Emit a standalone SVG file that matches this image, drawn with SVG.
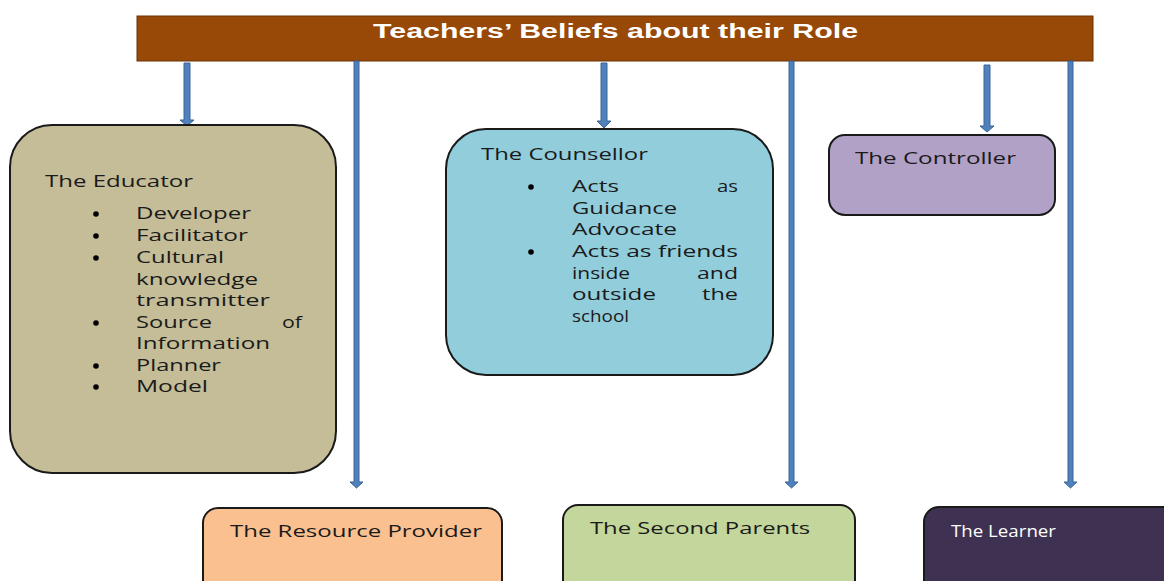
<svg xmlns="http://www.w3.org/2000/svg" width="1164" height="581" viewBox="0 0 1164 581">
<style>
.box{stroke:#1a1a1a;stroke-width:2}
.t{font-family:"Open Sans","Noto Sans",sans-serif;font-size:17px;fill:#1a1a1a}
.w{fill:#ffffff}
.hd{font-family:"Liberation Sans",Arial,sans-serif;font-size:19.5px;font-weight:bold;fill:#ffffff}
.arr{fill:#4F81BD;stroke:#3A6496;stroke-width:1}
.dot{fill:#000}
</style>
<rect width="1164" height="581" fill="#ffffff"/>
<g id="header">
<rect x="137" y="16" width="956" height="45" fill="#984807" stroke="#6b3305" stroke-width="1"/>
<text class="hd" x="373" y="38" textLength="485" lengthAdjust="spacingAndGlyphs">Teachers’ Beliefs about their Role</text>
</g>
<g id="connectors">
<polygon class="arr" points="184,63 190,63 190,120 194,120 187,126 180,120 184,120"/>
<polygon class="arr" points="354,61 359,61 359,482 363,482 356.5,488 350,482 354,482"/>
<polygon class="arr" points="601,63 607,63 607,121 611,121 604,128 597,121 601,121"/>
<polygon class="arr" points="789,61 794,61 794,482 798,482 791.5,488 785,482 789,482"/>
<polygon class="arr" points="984,65 990,65 990,126 994,126 987,132 980,126 984,126"/>
<polygon class="arr" points="1068,61 1073,61 1073,482 1077,482 1070.5,488 1064,482 1068,482"/>
</g>
<g id="educator">
<rect class="box" x="10" y="125" width="326" height="348" rx="42" fill="#C4BD97"/>
<text class="t" x="45" y="187" textLength="148" lengthAdjust="spacingAndGlyphs">The Educator</text>
<circle class="dot" cx="96" cy="214" r="2.8"/>
<text class="t" x="136" y="219" textLength="115" lengthAdjust="spacingAndGlyphs">Developer</text>
<circle class="dot" cx="96" cy="236" r="2.8"/>
<text class="t" x="136" y="241" textLength="112" lengthAdjust="spacingAndGlyphs">Facilitator</text>
<circle class="dot" cx="96" cy="258" r="2.8"/>
<text class="t" x="136" y="263" textLength="88" lengthAdjust="spacingAndGlyphs">Cultural</text>
<text class="t" x="136" y="285" textLength="122" lengthAdjust="spacingAndGlyphs">knowledge</text>
<text class="t" x="136" y="306" textLength="134" lengthAdjust="spacingAndGlyphs">transmitter</text>
<circle class="dot" cx="96" cy="323" r="2.8"/>
<text class="t" x="136" y="328" textLength="76" lengthAdjust="spacingAndGlyphs">Source</text>
<text class="t" x="282" y="328" textLength="20" lengthAdjust="spacingAndGlyphs">of</text>
<text class="t" x="136" y="349" textLength="134" lengthAdjust="spacingAndGlyphs">Information</text>
<circle class="dot" cx="96" cy="366" r="2.8"/>
<text class="t" x="136" y="371" textLength="85" lengthAdjust="spacingAndGlyphs">Planner</text>
<circle class="dot" cx="96" cy="387" r="2.8"/>
<text class="t" x="136" y="392" textLength="72" lengthAdjust="spacingAndGlyphs">Model</text>
</g>
<g id="counsellor">
<rect class="box" x="446" y="129" width="327" height="246" rx="40" fill="#92CDDC"/>
<text class="t" x="481" y="160" textLength="167" lengthAdjust="spacingAndGlyphs">The Counsellor</text>
<circle class="dot" cx="531" cy="187" r="2.8"/>
<text class="t" x="572" y="192" textLength="47" lengthAdjust="spacingAndGlyphs">Acts</text>
<text class="t" x="717" y="192" textLength="21" lengthAdjust="spacingAndGlyphs">as</text>
<text class="t" x="572" y="214" textLength="105" lengthAdjust="spacingAndGlyphs">Guidance</text>
<text class="t" x="572" y="235" textLength="105" lengthAdjust="spacingAndGlyphs">Advocate</text>
<circle class="dot" cx="531" cy="252" r="2.8"/>
<text class="t" x="572" y="257" textLength="166" lengthAdjust="spacingAndGlyphs">Acts as friends</text>
<text class="t" x="572" y="279" textLength="58" lengthAdjust="spacingAndGlyphs">inside</text>
<text class="t" x="697" y="279" textLength="41" lengthAdjust="spacingAndGlyphs">and</text>
<text class="t" x="572" y="300" textLength="84" lengthAdjust="spacingAndGlyphs">outside</text>
<text class="t" x="702" y="300" textLength="36" lengthAdjust="spacingAndGlyphs">the</text>
<text class="t" x="572" y="322" textLength="57" lengthAdjust="spacingAndGlyphs">school</text>
</g>
<g id="controller">
<rect class="box" x="829" y="135" width="226" height="80" rx="16" fill="#B2A1C7"/>
<text class="t" x="855" y="164" textLength="161" lengthAdjust="spacingAndGlyphs">The Controller</text>
</g>
<g id="resource-provider">
<rect class="box" x="203" y="508" width="299" height="90" rx="15" fill="#FAC090"/>
<text class="t" x="230" y="537" textLength="252" lengthAdjust="spacingAndGlyphs">The Resource Provider</text>
</g>
<g id="second-parents">
<rect class="box" x="563" y="505" width="292" height="93" rx="15" fill="#C3D69B"/>
<text class="t" x="590" y="534" textLength="220" lengthAdjust="spacingAndGlyphs">The Second Parents</text>
</g>
<g id="learner">
<rect class="box" x="924" y="507" width="260" height="91" rx="15" fill="#3F3151"/>
<text class="t w" x="951" y="537" textLength="105" lengthAdjust="spacingAndGlyphs">The Learner</text>
</g>
</svg>
